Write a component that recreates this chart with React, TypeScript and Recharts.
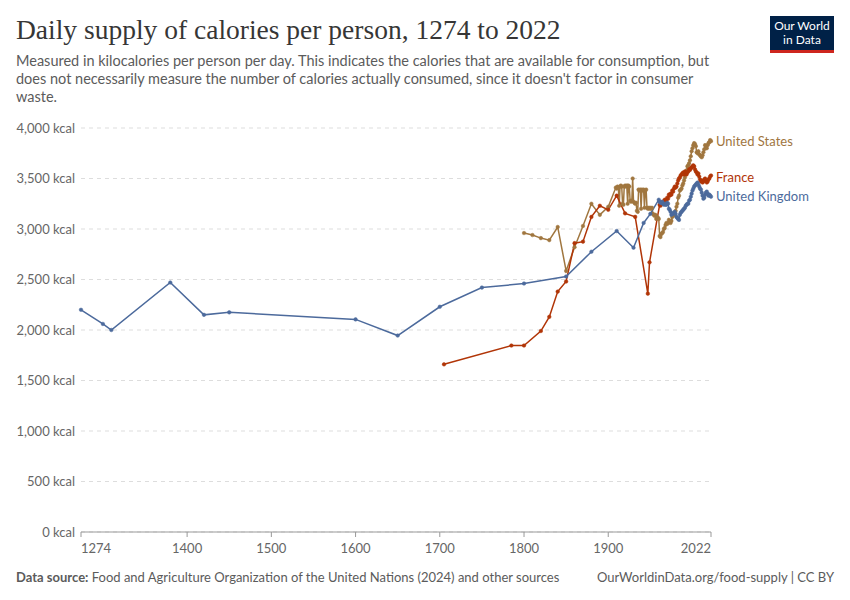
import React from "react";
import { LineChart, Line, XAxis, YAxis, CartesianGrid } from "recharts";

// Years and kcal values
const ukYears = [
  1274, 1300, 1310, 1380, 1420, 1450, 1600, 1650, 1700, 1750, 1800, 1850, 1880, 1910, 1930, 1942, 1950, 1960,
  1961, 1962, 1963, 1964, 1965, 1966, 1967, 1968, 1969, 1970, 1971, 1972, 1973, 1974, 1975, 1976, 1977, 1978,
  1979, 1980, 1981, 1982, 1983, 1984, 1985, 1986, 1987, 1988, 1989, 1990, 1991, 1992, 1993, 1994, 1995, 1996,
  1997, 1998, 1999, 2000, 2001, 2002, 2003, 2004, 2005, 2006, 2007, 2008, 2009, 2010, 2011, 2012, 2013, 2014,
  2015, 2016, 2017, 2018, 2019, 2020, 2021, 2022,
];
const ukValues = [
  2200, 2060, 2000, 2470, 2150, 2175, 2105, 1945, 2230, 2420, 2460, 2530, 2775, 2980, 2815, 3060, 3150, 3290,
  3270, 3260, 3260, 3270, 3250, 3240, 3250, 3240, 3240, 3260, 3250, 3200, 3190, 3170, 3140, 3150, 3150, 3160,
  3170, 3150, 3120, 3110, 3100, 3090, 3140, 3160, 3170, 3180, 3190, 3200, 3210, 3230, 3240, 3250, 3250, 3280,
  3290, 3320, 3350, 3380, 3400, 3420, 3430, 3440, 3450, 3460, 3440, 3420, 3400, 3390, 3360, 3330, 3300, 3310,
  3340, 3360, 3370, 3350, 3330, 3340, 3330, 3320,
];

const frYears = [
  1705, 1785, 1800, 1820, 1830, 1840, 1850, 1860, 1870, 1880, 1890, 1900, 1910, 1920, 1932, 1947, 1949,
  1961, 1962, 1963, 1964, 1965, 1966, 1967, 1968, 1969, 1970, 1971, 1972, 1973, 1974, 1975, 1976, 1977, 1978,
  1979, 1980, 1981, 1982, 1983, 1984, 1985, 1986, 1987, 1988, 1989, 1990, 1991, 1992, 1993, 1994, 1995, 1996,
  1997, 1998, 1999, 2000, 2001, 2002, 2003, 2004, 2005, 2006, 2007, 2008, 2009, 2010, 2011, 2012, 2013, 2014,
  2015, 2016, 2017, 2018, 2019, 2020, 2021, 2022,
];
const frValues = [
  1660, 1846, 1846, 1990, 2130, 2380, 2480, 2860, 2875, 3120, 3230, 3190, 3330, 3155, 3120, 2360, 2670,
  3240, 3230, 3260, 3250, 3270, 3260, 3290, 3280, 3290, 3310, 3300, 3340, 3330, 3350, 3340, 3380, 3370, 3400,
  3420, 3410, 3420, 3450, 3480, 3500, 3510, 3530, 3540, 3550, 3560, 3540, 3570, 3560, 3540, 3560, 3570, 3590,
  3585, 3600, 3610, 3620, 3630, 3620, 3590, 3570, 3560, 3540, 3550, 3520, 3490, 3470, 3480, 3460, 3470, 3490,
  3500, 3480, 3460, 3470, 3490, 3500, 3520, 3530,
];

const usYears = [
  1800, 1810, 1820, 1830, 1840, 1850, 1860, 1870, 1880, 1890, 1900,
  1909, 1910, 1911, 1912, 1913, 1914, 1915, 1916, 1917, 1918, 1919, 1920, 1921, 1922, 1923, 1924, 1925, 1926,
  1927, 1928, 1929, 1930, 1931, 1932, 1933, 1934, 1935, 1936, 1937, 1938, 1939, 1940, 1941, 1942, 1943, 1944,
  1945, 1946, 1947, 1948, 1949, 1950, 1951, 1952, 1953, 1954, 1955, 1956, 1957, 1958, 1959, 1960,
  1961, 1962, 1963, 1964, 1965, 1966, 1967, 1968, 1969, 1970, 1971, 1972, 1973, 1974, 1975, 1976, 1977, 1978,
  1979, 1980, 1981, 1982, 1983, 1984, 1985, 1986, 1987, 1988, 1989, 1990, 1991, 1992, 1993, 1994, 1995, 1996,
  1997, 1998, 1999, 2000, 2001, 2002, 2003, 2004, 2005, 2006, 2007, 2008, 2009, 2010, 2011, 2012, 2013, 2014,
  2015, 2016, 2017, 2018, 2019, 2020, 2021, 2022,
];
const usValues = [
  2960, 2940, 2910, 2890, 3020, 2585, 2820, 3030, 3250, 3140, 3220,
  3410, 3400, 3420, 3410, 3230, 3420, 3430, 3420, 3250, 3240, 3420, 3430, 3420, 3430, 3250, 3430, 3420, 3280,
  3270, 3280, 3500, 3270, 3260, 3250, 3260, 3180, 3170, 3390, 3380, 3390, 3200, 3390, 3380, 3390, 3210, 3380,
  3390, 3210, 3200, 3210, 3200, 3210, 3200, 3210, 3150, 3140, 3130, 3140, 3100, 3120, 3110, 3100,
  2930, 2920, 2950, 2960, 2970, 3000, 3010, 3040, 3060, 3050, 3060, 3090, 3070, 3060, 3080, 3120, 3130, 3140,
  3150, 3180, 3220, 3250, 3310, 3330, 3380, 3390, 3400, 3430, 3450, 3480, 3510, 3550, 3580, 3620, 3630, 3650,
  3680, 3720, 3770, 3800, 3830, 3850, 3840, 3820, 3760, 3750, 3770, 3740, 3730, 3720, 3710, 3730, 3760, 3790,
  3830, 3820, 3800, 3830, 3850, 3860, 3880, 3870,
];

const xTicks = [1274, 1400, 1500, 1600, 1700, 1800, 1900, 2022];
const yTicks = [0, 500, 1000, 1500, 2000, 2500, 3000, 3500, 4000];

const toRows = (years: number[], values: number[]) =>
  years.map((year, i) => ({ year, kcal: values[i] }));

const SERIES = [
  { name: "United States", color: "#A0763F", rows: toRows(usYears, usValues), dy: 2 },
  { name: "France", color: "#B13507", rows: toRows(frYears, frValues), dy: 3 },
  { name: "United Kingdom", color: "#4C6A9C", rows: toRows(ukYears, ukValues), dy: 1 },
];

const GREY = "#5b5b5b";

function XTick(props: any) {
  const { x, y, payload } = props;
  const v = payload.value;
  const anchor = v === 1274 ? "start" : v === 2022 ? "end" : "middle";
  return (
    <text x={x} y={y + 14} textAnchor={anchor} fill="#666" fontSize={13} fontFamily="Lato, sans-serif">
      {v}
    </text>
  );
}

export default function App() {
  return (
    <div
      style={{
        position: "absolute",
        left: 0,
        top: 0,
        width: 850,
        height: 600,
        background: "#fff",
        fontFamily: "Lato, sans-serif",
        overflow: "hidden",
      }}
    >
      <div
        style={{
          position: "absolute",
          left: 16,
          top: 14,
          fontFamily: "'Liberation Serif', serif",
          fontSize: 27.5,
          color: "#363636",
          whiteSpace: "nowrap",
        }}
      >
        Daily supply of calories per person, 1274 to 2022
      </div>
      <div
        style={{
          position: "absolute",
          left: 16,
          top: 52,
          fontSize: 14.5,
          lineHeight: "18px",
          color: GREY,
          whiteSpace: "nowrap",
        }}
      >
        Measured in kilocalories per person per day. This indicates the calories that are available for consumption, but
        <br />
        does not necessarily measure the number of calories actually consumed, since it doesn't factor in consumer
        <br />
        waste.
      </div>

      <div
        style={{
          position: "absolute",
          left: 770,
          top: 16,
          width: 64,
          height: 37,
          background: "#002147",
          borderBottom: "3px solid #CE261E",
          boxSizing: "border-box",
        }}
      >
        <div style={{ position: "absolute", left: 0, width: 64, top: 3, textAlign: "center", color: "#fff", fontSize: 12, lineHeight: "14px" }}>
          Our World
        </div>
        <div style={{ position: "absolute", left: 0, width: 64, top: 17, textAlign: "center", color: "#fff", fontSize: 12, lineHeight: "14px" }}>
          in Data
        </div>
      </div>

      <div style={{ position: "absolute", left: 0, top: 0 }}>
        <LineChart width={850} height={560} margin={{ top: 128, right: 139, bottom: 8, left: 0 }}>
          <CartesianGrid vertical={false} stroke="#dddddd" strokeDasharray="4 4" />
          <XAxis
            type="number"
            dataKey="year"
            domain={[1274, 2022]}
            ticks={xTicks}
            allowDuplicatedCategory={false}
            height={20}
            tick={<XTick />}
            tickLine={{ stroke: "#999" }}
            tickSize={5}
            axisLine={{ stroke: "#999" }}
          />
          <YAxis
            type="number"
            domain={[0, 4000]}
            ticks={yTicks}
            width={81}
            axisLine={false}
            tickLine={false}
            tickMargin={0}
            tick={{ fill: "#666", fontSize: 13, fontFamily: "Lato, sans-serif" }}
            tickFormatter={(v: number) => `${v.toLocaleString("en-US")} kcal`}
          />
          {SERIES.map((s) => (
            <Line
              key={s.name}
              data={s.rows}
              dataKey="kcal"
              name={s.name}
              type="linear"
              stroke={s.color}
              strokeWidth={1.5}
              dot={{ r: 1.8, fill: s.color, stroke: s.color, strokeWidth: 0.5 }}
              isAnimationActive={false}
              label={(p: any) =>
                p.index === s.rows.length - 1 ? (
                  <text
                    key={s.name}
                    x={p.x + 5}
                    y={p.y + s.dy}
                    dominantBaseline="middle"
                    fill={s.color}
                    fontSize={13}
                    fontFamily="Lato, sans-serif"
                  >
                    {s.name}
                  </text>
                ) : (
                  <g key={p.index} />
                )
              }
            />
          ))}
        </LineChart>
      </div>

      <div style={{ position: "absolute", left: 16, top: 569, fontSize: 13, color: GREY, whiteSpace: "nowrap" }}>
        <b>Data source:</b> Food and Agriculture Organization of the United Nations (2024) and other sources
      </div>
      <div
        style={{
          position: "absolute",
          right: 16,
          top: 569,
          fontSize: 13,
          color: GREY,
          whiteSpace: "nowrap",
        }}
      >
        OurWorldinData.org/food-supply | CC BY
      </div>
    </div>
  );
}
